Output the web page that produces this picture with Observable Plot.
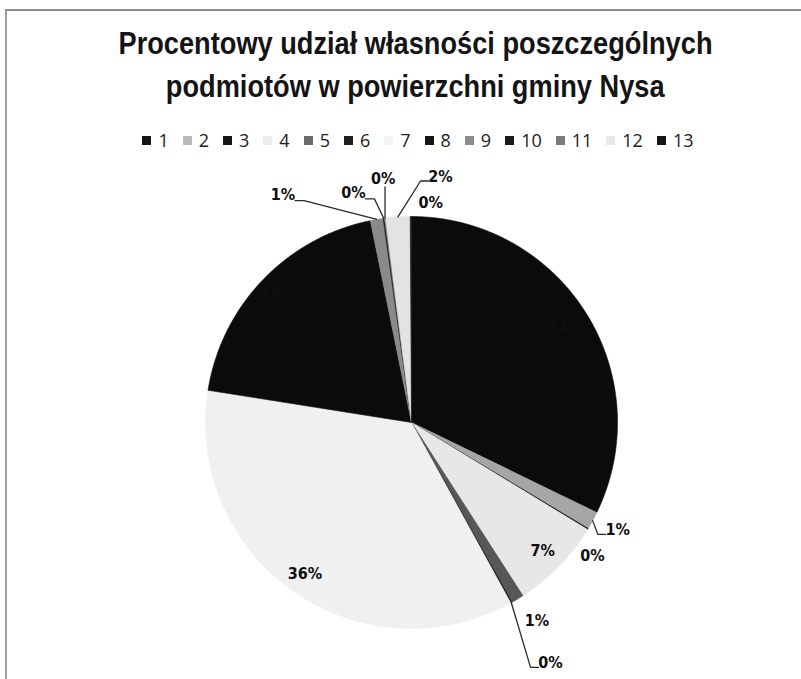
<!DOCTYPE html>
<html><head><meta charset="utf-8">
<script src="https://cdn.jsdelivr.net/npm/d3@7"></script>
<script src="https://cdn.jsdelivr.net/npm/@observablehq/plot@0.6"></script>
<style>
body{margin:0;background:#fff;}
#wrap{position:relative;width:801px;height:679px;overflow:hidden;background:#fff;}
#frame{position:absolute;left:5px;top:9px;width:840px;height:720px;border-top:2px solid #8c8c8c;border-left:2px solid #a0a0a0;}
#title{position:absolute;left:0;top:22px;width:830px;text-align:center;font-family:"Liberation Sans",Arial,sans-serif;font-weight:bold;font-size:31px;line-height:43px;color:#141414;}
#title span{display:inline-block;white-space:nowrap;transform-origin:50% 50%;}
#legend{position:absolute;left:10px;top:124px;width:830px;}
#legend .lg-swatches{justify-content:center;font-family:"Open Sans","Noto Sans",sans-serif;font-size:18px;color:#222;min-height:32px;}
#legend .lg-swatch{margin-right:14px;}
#legend .lg-swatch > svg{margin-right:7px;}
#chart{position:absolute;left:0;top:160px;}
</style></head><body>
<div id="wrap"><div id="frame"></div>
<div id="title"><span>Procentowy udział własności poszczególnych</span><br><span>podmiotów w powierzchni gminy Nysa</span></div>
<div id="legend"></div><div id="chart"></div></div>
<script>
// Categories (legend entries) and their shares of the area (%)
const categories = ["1","2","3","4","5","6","7","8","9","10","11","12","13"];
const shares = [32.2, 1.4, 0.1, 7.2, 1.0, 0.1, 35.5, 19.3, 1.0, 0.1, 0.1, 1.9, 0.1];

// Styles
const sliceColors = ["#0b0b0b","#a6a6a6","#151515","#e7e7e7","#575757","#151515","#f0f0f0","#0b0b0b","#8a8a8a","#151515","#7c7c7c","#e3e3e3","#151515"];
const legendColors = ["#151515","#b9b9b9","#151515","#ececec","#6a6a6a","#202020","#f3f3f3","#151515","#8c8c8c","#1a1a1a","#7a7a7a","#e8e8e8","#151515"];
// Label placement (polar angle in degrees clockwise from 12 o'clock, radius relative to pie radius)
const labelLayout = [
  {r:0.88}, {angle:117.6, r:1.13, leader:"right"}, {angle:126.3, r:1.09}, {r:0.89},
  {angle:147.7, r:1.14}, {angle:150, r:1.35, leader:"right"}, {r:0.90}, {r:0.89},
  {angle:330.6, r:1.27, leader:"left"}, {angle:345.8, r:1.15, leader:"left"},
  {angle:353.4, r:1.19, leader:"down"}, {angle:6.75, r:1.20, leader:"right"}, {angle:5, r:1.07}
];
const R = 206; // pie radius in px

// Title: condense horizontally like a narrow typeface
const spans = document.querySelectorAll("#title span");
const k = 594 / spans[0].getBoundingClientRect().width;
spans.forEach(s => s.style.transform = `scaleX(${k})`);

const arcs = d3.pie().sort(null).value(d => d)(shares);
const slicePts = arcs.flatMap((a, i) => {
  const n = Math.max(2, Math.ceil((a.endAngle - a.startAngle) / (Math.PI / 360)));
  const pts = [{i, c: sliceColors[i], x: 0, y: 0}];
  for (let j = 0; j <= n; j++) {
    const t = a.startAngle + (a.endAngle - a.startAngle) * j / n;
    pts.push({i, c: sliceColors[i], x: Math.sin(t), y: Math.cos(t)});
  }
  pts.push({i, c: sliceColors[i], x: 0, y: 0});
  return pts;
});

const labelData = arcs.map((a, i) => {
  const L = labelLayout[i];
  const mid = (a.startAngle + a.endAngle) / 2;
  const ang = L.angle != null ? L.angle * Math.PI / 180 : mid;
  return {i, x: L.r * Math.sin(ang), y: L.r * Math.cos(ang), text: Math.round(shares[i]) + "%", mid, leader: L.leader};
});
const leaders = labelData.filter(d => d.leader).flatMap(d => {
  const a = {x: Math.sin(d.mid), y: Math.cos(d.mid)};
  const px = 1 / R;
  let pts;
  if (d.leader === "right") {
    const end = {x: d.x - 12 * px, y: d.y - 4 * px};
    pts = [a, {x: end.x - 8 * px, y: end.y}, end];
  } else if (d.leader === "left") {
    const end = {x: d.x + 12 * px, y: d.y - 6 * px};
    pts = [a, {x: end.x + 9 * px, y: end.y}, end];
  } else {
    pts = [a, {x: a.x, y: d.y - 8 * px}];
  }
  return pts.map(p => ({...p, i: d.i}));
});

const cx = 411, cy = 262;
const plot = Plot.plot({
  width: 801, height: 519,
  margin: 0,
  x: {domain: [-1, 1], range: [cx - R, cx + R], axis: null},
  y: {domain: [-1, 1], range: [cy + R, cy - R], axis: null},
  color: {type: "identity"},
  style: {background: "transparent", fontFamily: "'DejaVu Sans Condensed',sans-serif"},
  marks: [
    Plot.line(slicePts, {x: "x", y: "y", z: "i", fill: "c", stroke: "c", strokeWidth: 0.6, curve: "linear"}),
    Plot.line(leaders, {x: "x", y: "y", z: "i", stroke: "#2a2a2a", strokeWidth: 1.3}),
    Plot.text(labelData, {x: "x", y: "y", text: "text", fill: "#0f0f0f", fontSize: 16, fontWeight: "bold",
      fontFamily: "'DejaVu Sans Condensed',sans-serif"})
  ]
});
document.getElementById("chart").append(plot);

const legend = Plot.legend({
  color: {type: "ordinal", domain: categories, range: legendColors},
  swatchSize: 9, className: "lg"
});
document.getElementById("legend").append(legend);
</script>
</body></html>
